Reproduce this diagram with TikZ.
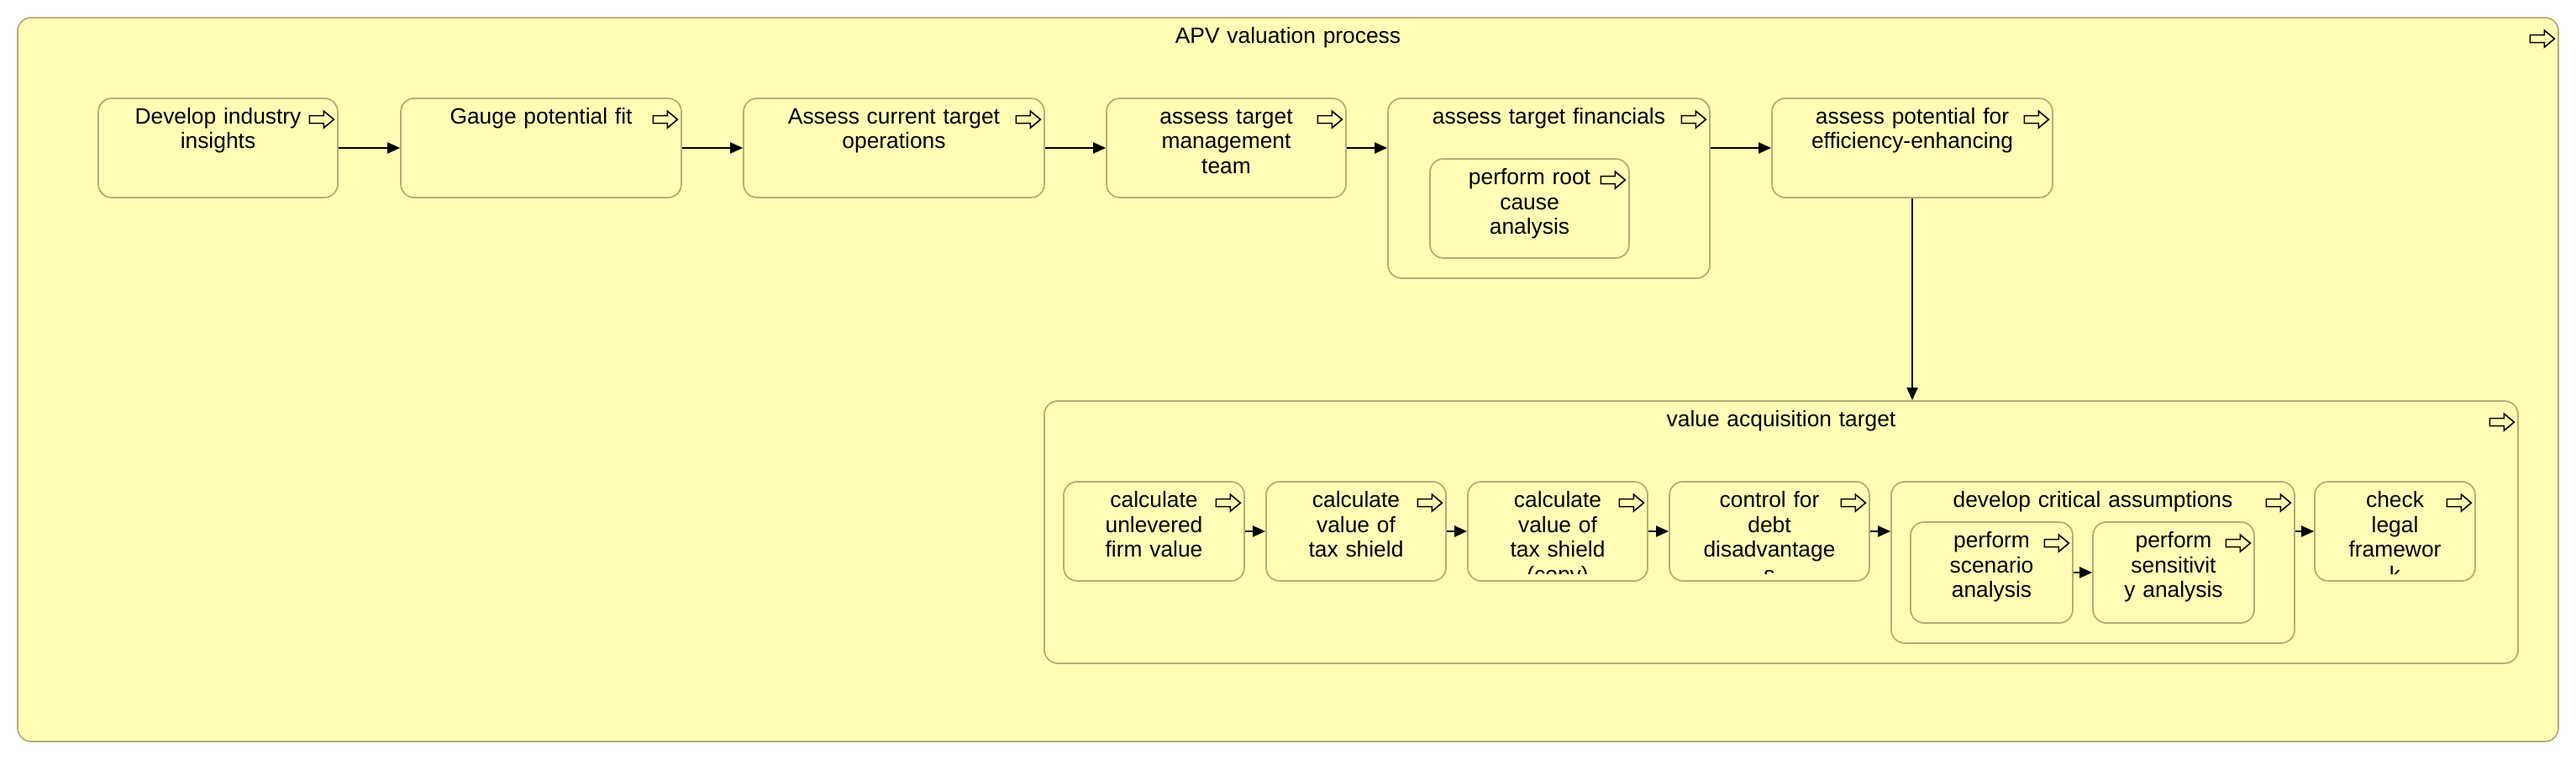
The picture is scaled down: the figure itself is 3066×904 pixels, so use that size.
\documentclass[tikz,border=0pt]{standalone}
\usepackage{fontspec}
\setmainfont{Liberation Sans}
\usepackage{tikz}
\usetikzlibrary{fit,arrows.meta}

\definecolor{boxfill}{RGB}{255,253,181}
\definecolor{boxline}{RGB}{178,174,119}

\tikzset{
  pics/goicon/.style={code={
      \draw[line width=0.45pt] (-14.5,-4.5) -- (2.5,-4.5) -- (2.5,-10) -- (14.5,0)
        -- (2.5,10) -- (2.5,4.5) -- (-14.5,4.5) -- cycle;}}
}

\begin{document}
\begin{tikzpicture}[x=0.01cm,y=-0.01cm,
    task/.style={draw=boxline,fill=boxfill,line width=0.5pt,rounded corners=0.16cm,inner sep=0pt},
    lbl/.style={anchor=base,align=center,text width=4cm,inner sep=0pt,
        font=\fontsize{7.5}{8.5}\selectfont},
    flow/.style={-{Triangle[length=0.15cm,width=0.13cm]},line width=0.55pt,black}]
  \useasboundingbox (0,0) rectangle (3066,904);
  %%%%% THE BOXES (containers before what they hold)
  \foreach \nm/\sw/\ne/\txt in {
      APV/{21,21}/{3045,882}/{APV valuation process},
      DEV/{117,117}/{402,235}/{Develop industry\\insights},
      GAUGE/{477,117}/{811,235}/{Gauge potential fit},
      OPS/{885,117}/{1243,235}/{Assess current target\\operations},
      MGMT/{1317,117}/{1602,235}/{assess target\\management\\team},
      FIN/{1652,117}/{2035,331}/{assess target financials},
      ROOT/{1702,189}/{1939,307}/{perform root\\cause\\analysis},
      EFF/{2109,117}/{2443,235}/{assess potential for\\efficiency-enhancing},
      VALUE/{1243,477}/{2997,789}/{value acquisition target},
      UNLEV/{1266,573}/{1481,691}/{calculate\\unlevered\\firm value},
      TAX/{1507,573}/{1721,691}/{calculate\\value of\\tax shield},
      TAXC/{1747,573}/{1961,691}/{calculate\\value of\\tax shield\\(copy)},
      DEBT/{1987,573}/{2225,691}/{control for\\debt\\disadvantage\\s},
      CRIT/{2251,573}/{2731,765}/{develop critical assumptions},
      SCEN/{2274,621}/{2467,741}/{perform\\scenario\\analysis},
      SENS/{2491,621}/{2683,741}/{perform\\sensitivit\\y analysis},
      LEGAL/{2755,573}/{2946,691}/{check\\legal\\framewor\\k}}{
    \node[task,fit={(\sw) (\ne)}] (\nm) {};
    \begin{scope}
      \clip (\nm.north west) rectangle ([shift={(0,-9)}]\nm.south east);
      \node[lbl] (\nm-t) at ([shift={(0,31)}]\nm.north) {\txt};
    \end{scope}
    \pic at ([shift={(-20,26)}]\nm.north east) {goicon};
  }
  %%%%% TOP ROW
  \draw[flow] (DEV) -- (GAUGE);
  \draw[flow] (GAUGE) -- (OPS);
  \draw[flow] (OPS) -- (MGMT);
  \draw[flow] (MGMT) -- (MGMT -| FIN.west);
  \draw[flow] (FIN.east |- EFF) -- (EFF);
  \draw[flow] (EFF) -- (EFF |- VALUE.north);
  %%%%% INSIDE VALUE ACQUISITION TARGET
  \draw[flow] (UNLEV) -- (TAX);
  \draw[flow] (TAX) -- (TAXC);
  \draw[flow] (TAXC) -- (DEBT);
  \draw[flow] (DEBT) -- (DEBT -| CRIT.west);
  \draw[flow] (CRIT.east |- LEGAL) -- (LEGAL);
  \draw[flow] (SCEN) -- (SENS);
\end{tikzpicture}
\end{document}
